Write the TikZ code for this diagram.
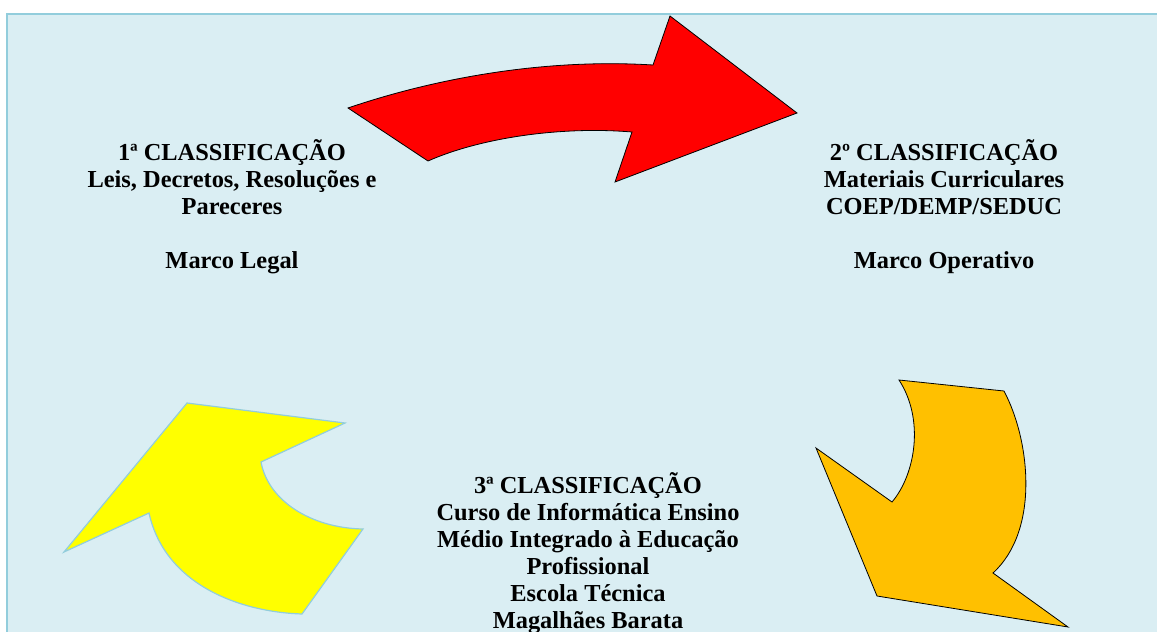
\documentclass[tikz,border=0pt]{standalone}
\usepackage{fontspec}
\setmainfont{Liberation Serif}
\definecolor{fundo}{HTML}{DAEEF3}
\definecolor{borda}{HTML}{92CDDC}
\definecolor{laranja}{HTML}{FFC000}
\definecolor{amarelo}{HTML}{FFFF00}

\begin{document}
\begin{tikzpicture}[x=1pt,y=-1pt,
classe/.style={align=center,inner sep=0pt,anchor=base,
  font={\fontsize{24.4}{27}\selectfont\bfseries}},
seta/.style={draw=black,line width=0.8pt,line join=miter}
]
\useasboundingbox (0,0) rectangle (1157,632);
\fill[fundo] (7,14) rectangle (1170,645);
\draw[borda,line width=1.5pt] (1170,14) -- (7,14) -- (7,645);

% setas
\filldraw[seta,fill=red] (348,108) .. controls (430,80) and (540,58) .. (653,65)
  -- (670,16) -- (797,113) -- (615,182) -- (632,132)
  .. controls (560,126) and (480,138) .. (428,161) -- cycle;

\filldraw[seta,fill=laranja] (899,380) -- (1004,391)
  .. controls (1030,440) and (1040,530) .. (993,573)
  -- (1068,627) -- (877,596) -- (816,448) -- (892,502)
  .. controls (915,475) and (925,420) .. cycle;

\filldraw[seta,draw=borda,line width=1.2pt,fill=amarelo] (187,403) -- (345,423) -- (261,462)
  .. controls (268,500) and (310,528) .. (363,529)
  -- (302,614) .. controls (240,612) and (165,585) .. (149,513)
  -- (64,552) -- cycle;

% textos (base = ultima linha)
\node[classe] (c1) at (232,268) {1ª CLASSIFICAÇÃO\\Leis, Decretos, Resoluções e\\Pareceres\\[27pt]Marco Legal};
\node[classe] (c2) at (944,268) {2º CLASSIFICAÇÃO\\Materiais Curriculares\\COEP/DEMP/SEDUC\\[27pt]Marco Operativo};
\node[classe] (c3) at (588,628) {3ª CLASSIFICAÇÃO\\Curso de Informática Ensino\\Médio Integrado à Educação\\Profissional\\Escola Técnica\\Magalhães Barata};
\end{tikzpicture}
\end{document}
